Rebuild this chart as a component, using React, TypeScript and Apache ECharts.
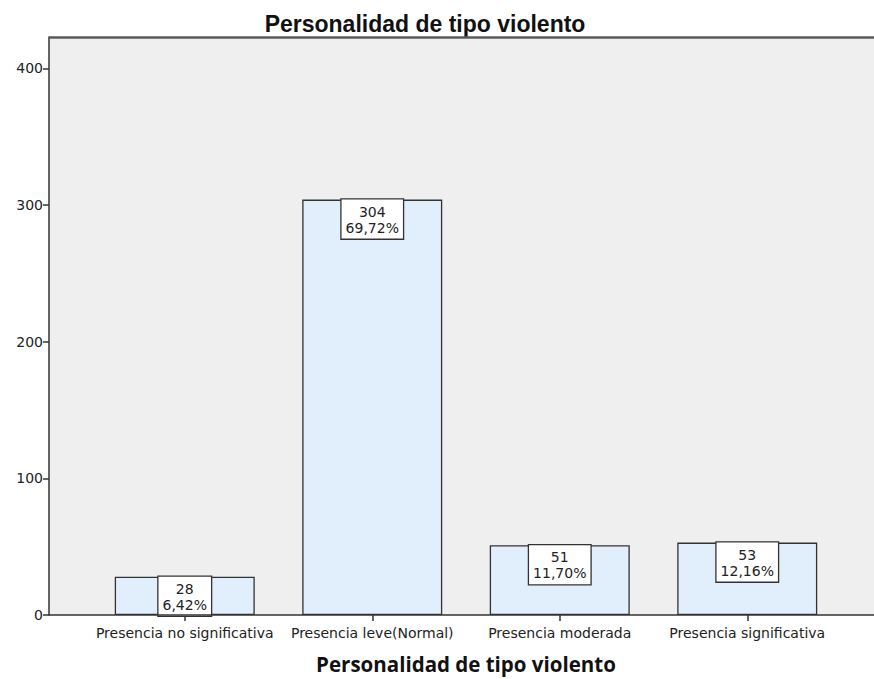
import React, { useEffect, useRef } from "react";
import * as echarts from "echarts";

const categories = [
  "Presencia no significativa",
  "Presencia leve(Normal)",
  "Presencia moderada",
  "Presencia significativa",
];
const counts = [28, 304, 51, 53];
const percents = ["6,42%", "69,72%", "11,70%", "12,16%"];
const chartTitle = "Personalidad de tipo violento";
const xAxisName = "Personalidad de tipo violento";
const yMax = 423;
const yInterval = 100;

export default function App() {
  const ref = useRef<HTMLDivElement>(null);
  useEffect(() => {
    document.body.style.margin = "0";
    const chart = echarts.init(ref.current!, null, { renderer: "svg" });
    const font = "DejaVu Sans";
    chart.setOption({
      animation: false,
      backgroundColor: "#ffffff",
      title: {
        text: chartTitle,
        left: 420,
        top: 7,
        textAlign: "center",
        textStyle: {
          fontFamily: "Liberation Sans",
          fontWeight: "bold",
          fontSize: 23,
          color: "#111",
        },
      },
      graphic: [
        {
          type: "rect",
          z: -10,
          shape: { x: 49, y: 37, width: 830, height: 578 },
          style: { fill: "#efefef" },
        },
        {
          type: "line",
          z: 10,
          shape: { x1: 49, y1: 37.5, x2: 874, y2: 37.5 },
          style: { stroke: "#5a5a5a", lineWidth: 2.5 },
        },
        {
          type: "line",
          z: 10,
          shape: { x1: 49, y1: 615, x2: 874, y2: 615 },
          style: { stroke: "#333", lineWidth: 1.5 },
        },
      ],
      grid: {
        left: 91,
        width: 750,
        top: 37,
        height: 578,
        outerBoundsMode: "none",
        containLabel: false,
      },
      xAxis: {
        type: "category",
        data: categories,
        name: xAxisName,
        nameLocation: "middle",
        nameGap: 38,
        nameTextStyle: {
          fontFamily: "Open Sans",
          fontWeight: "bold",
          fontSize: 20.5,
          color: "#111",
          lineHeight: 22,
        },
        axisLine: { show: false },
        axisTick: {
          show: true,
          alignWithLabel: true,
          length: 6,
          lineStyle: { color: "#333", width: 1.5 },
        },
        axisLabel: {
          fontFamily: font,
          fontSize: 14,
          color: "#222",
          margin: 11,
          interval: 0,
        },
      },
      yAxis: {
        type: "value",
        min: 0,
        max: yMax,
        interval: yInterval,
        offset: 42,
        axisLine: { show: true, lineStyle: { color: "#333", width: 1.5 } },
        axisTick: { show: true, length: 6, lineStyle: { color: "#333", width: 1.5 } },
        axisLabel: {
          fontFamily: font,
          fontSize: 14,
          color: "#222",
          margin: 6,
          showMaxLabel: false,
          formatter: (v: number) => (v % yInterval === 0 ? String(v) : ""),
        },
        splitLine: { show: false },
      },
      series: [
        {
          type: "bar",
          data: counts,
          barWidth: 140,
          itemStyle: {
            color: "#e1eefc",
            borderColor: "#333",
            borderWidth: 1.3,
          },
          label: {
            show: true,
            position: "insideTop",
            distance: 0,
            formatter: (p: any) => `${p.value}\n${percents[p.dataIndex]}`,
            fontFamily: font,
            fontSize: 14,
            lineHeight: 16,
            color: "#222",
            backgroundColor: "#ffffff",
            borderColor: "#333",
            borderWidth: 1.3,
            padding: [4, 4, 3, 4],
          },
        },
      ],
    });
    return () => chart.dispose();
  }, []);
  return (
    <div
      ref={ref}
      style={{ position: "absolute", left: 0, top: 0, width: 874, height: 679 }}
    />
  );
}
